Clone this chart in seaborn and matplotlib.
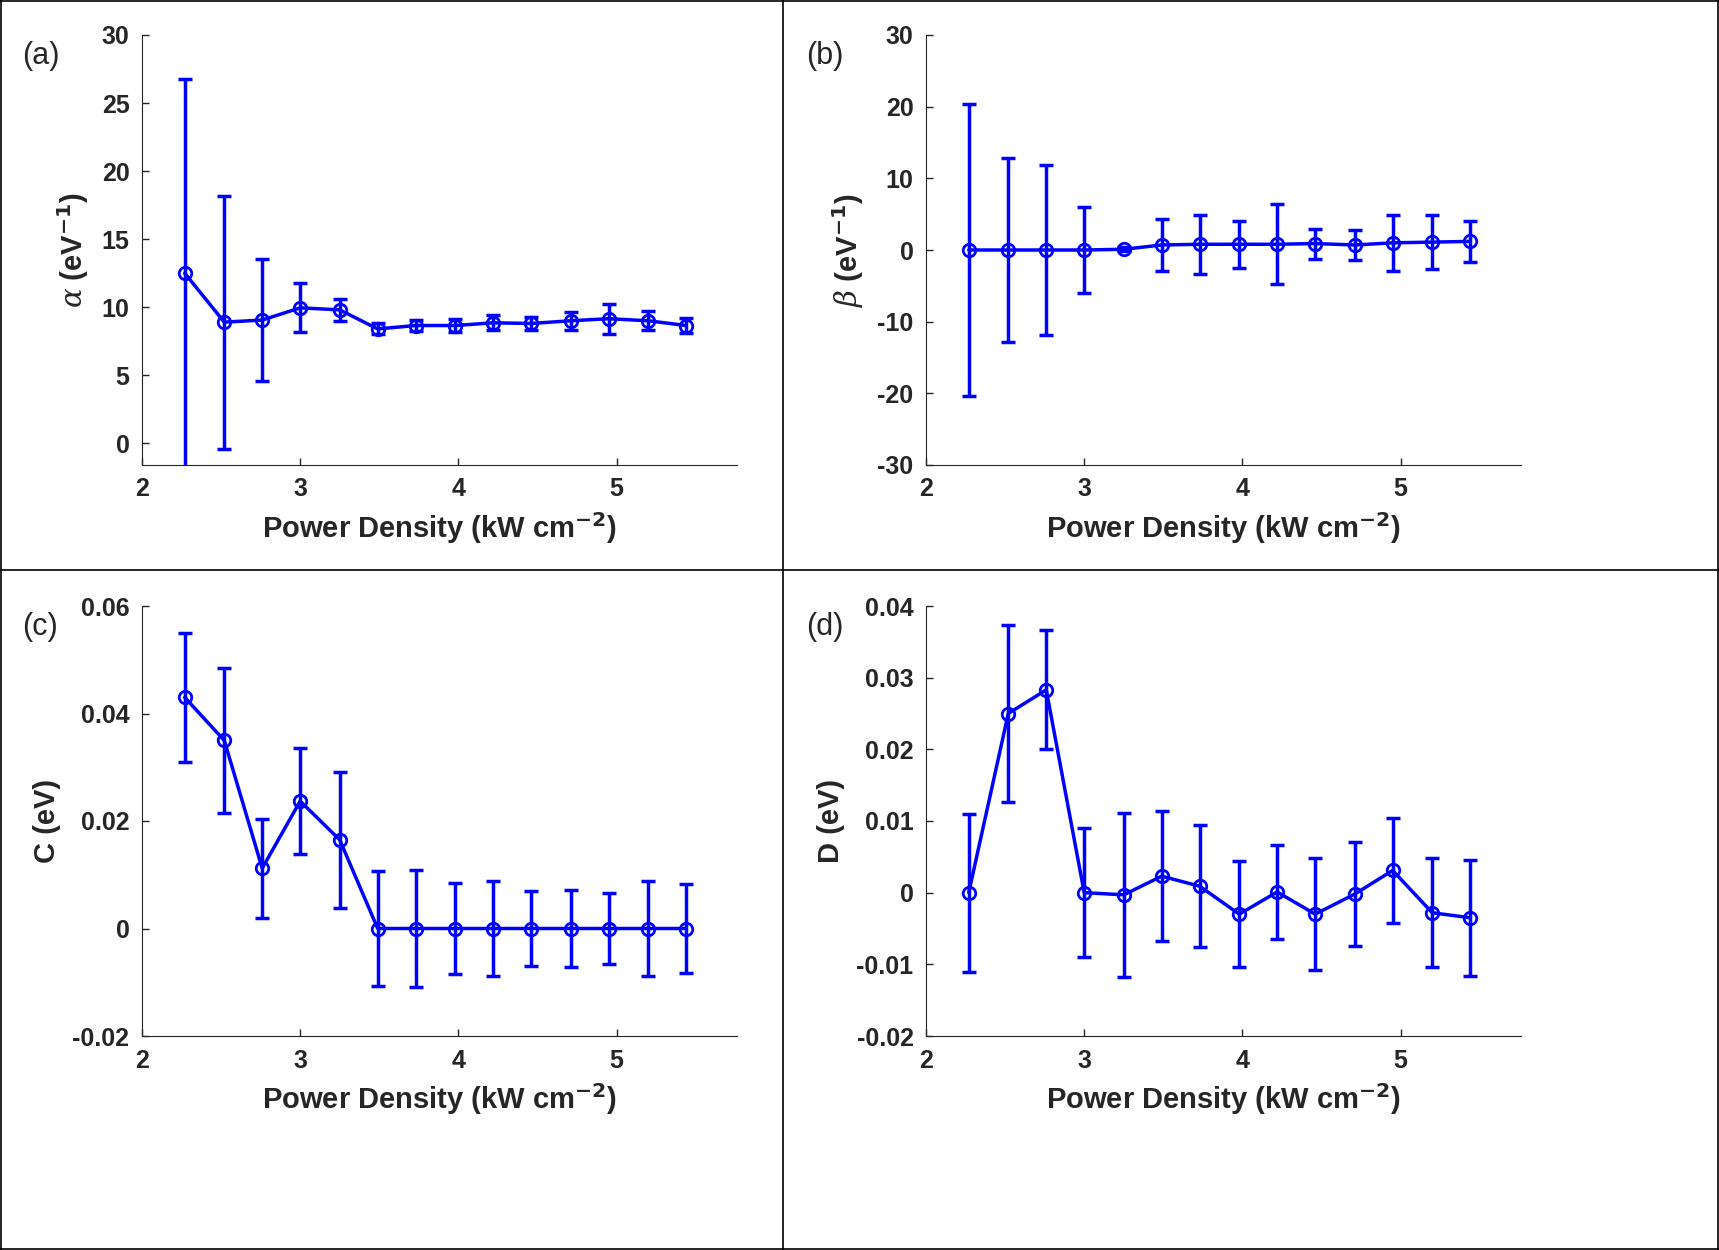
import numpy as np
import pandas as pd
import matplotlib
matplotlib.use("Agg")
import matplotlib.pyplot as plt
import seaborn as sns
from matplotlib.lines import Line2D

power = [2.27, 2.52, 2.76, 3.00, 3.25, 3.49, 3.73, 3.98, 4.22, 4.46, 4.71, 4.95, 5.20, 5.44]

alpha_val = [12.5, 8.9, 9.05, 9.95, 9.8, 8.4, 8.65, 8.65, 8.85, 8.8, 9.0, 9.15, 9.0, 8.65]
alpha_err = [14.3, 9.3, 4.5, 1.8, 0.8, 0.4, 0.4, 0.5, 0.55, 0.5, 0.65, 1.1, 0.7, 0.55]

beta_val = [0, 0, 0, 0, 0.1, 0.7, 0.8, 0.8, 0.8, 0.9, 0.7, 1.0, 1.1, 1.2]
beta_err = [20.4, 12.8, 11.9, 6.0, 0.3, 3.6, 4.1, 3.3, 5.6, 2.1, 2.1, 3.9, 3.8, 2.9]

c_val = [0.043, 0.035, 0.0112, 0.0237, 0.0165, 0, 0, 0, 0, 0, 0, 0, 0, 0]
c_err = [0.012, 0.0135, 0.0092, 0.0098, 0.0127, 0.0107, 0.0108, 0.0085, 0.0088, 0.007, 0.0072, 0.0066, 0.0088, 0.0083]

d_val = [0, 0.025, 0.0283, 0, -0.0003, 0.0023, 0.0009, -0.003, 0.0001, -0.003, -0.0002, 0.0031, -0.0028, -0.0035]
d_err = [0.011, 0.0123, 0.0083, 0.009, 0.0114, 0.0091, 0.0085, 0.0074, 0.0065, 0.0078, 0.0073, 0.0073, 0.0076, 0.0081]

sns.set_style("ticks")
plt.rcParams['font.family'] = ['Liberation Sans', 'DejaVu Sans']
plt.rcParams['mathtext.fontset'] = 'custom'
plt.rcParams['mathtext.it'] = 'DejaVu Serif:italic'
plt.rcParams['mathtext.rm'] = 'Liberation Sans:bold'

fig = plt.figure(figsize=(17.19, 12.5), dpi=100)

panels = [
    ("(a)", alpha_val, alpha_err, r"$\alpha$ (eV$^{\mathbf{-1}}$)", (-1.6, 30), [0, 5, 10, 15, 20, 25, 30], [0.0826, 0.628]),
    ("(b)", beta_val, beta_err, r"$\beta$ (eV$^{\mathbf{-1}}$)", (-30, 30), [-30, -20, -10, 0, 10, 20, 30], [0.5387, 0.628]),
    ("(c)", c_val, c_err, "C (eV)", (-0.02, 0.06), [-0.02, 0, 0.02, 0.04, 0.06], [0.0826, 0.1712]),
    ("(d)", d_val, d_err, "D (eV)", (-0.02, 0.04), [-0.02, -0.01, 0, 0.01, 0.02, 0.03, 0.04], [0.5387, 0.1712]),
]

blue = (0, 0, 1)
for tag, val, err, ylab, ylim, yt, pos in panels:
    ax = fig.add_axes([pos[0], pos[1], 0.346, 0.344])
    df = pd.DataFrame({"x": power, "y": val})
    ax.errorbar(power, val, yerr=err, fmt="none", ecolor=blue, elinewidth=2.5, capsize=5, capthick=2.5)
    sns.lineplot(data=df, x="x", y="y", ax=ax, color=blue, lw=2.5, marker="o", markersize=9,
                 markerfacecolor="none", markeredgecolor=blue, markeredgewidth=2)
    ax.set_xlim(2, 5.76)
    ax.set_ylim(*ylim)
    ax.set_xticks([2, 3, 4, 5])
    ax.set_yticks(yt)
    ax.set_yticklabels([("%g" % t) for t in yt])
    ax.tick_params(labelsize=18, direction="in", length=5, width=1, pad=9)
    for lab in ax.get_xticklabels() + ax.get_yticklabels():
        lab.set_fontweight("bold")
    ax.set_xlabel("Power Density (kW cm$^{\\mathbf{-2}}$)", fontsize=21, fontweight="bold", labelpad=6)
    ax.set_ylabel(ylab, fontsize=21, fontweight="bold", labelpad=8)
    sns.despine(ax=ax)
    for s in ("left", "bottom"):
        ax.spines[s].set_color("#262626")
    fig.text(pos[0] - 0.07, pos[1] + 0.344 - 0.005, tag, fontsize=22, va="top", ha="left")

# panel frame lines
for l in [Line2D([0.0005, 0.9995], [0.544, 0.544]), Line2D([0.4555, 0.4555], [0, 1]),
          Line2D([0.0005, 0.0005], [0, 1]), Line2D([0.9995, 0.9995], [0, 1]),
          Line2D([0, 1], [0.0005, 0.0005]), Line2D([0, 1], [0.9995, 0.9995])]:
    l.set_color("black"); l.set_linewidth(1.2); l.set_transform(fig.transFigure)
    fig.add_artist(l)

fig.savefig("out.png", dpi=100)
